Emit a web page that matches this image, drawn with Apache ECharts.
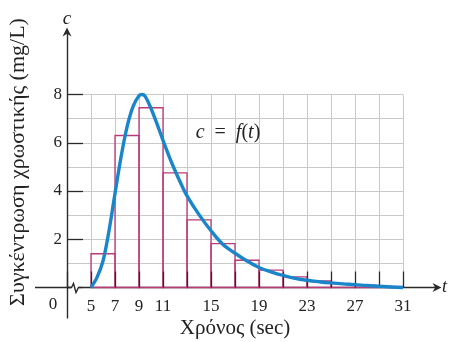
<!DOCTYPE html>
<html><head><meta charset="utf-8">
<script src="https://cdn.jsdelivr.net/npm/echarts@6/dist/echarts.min.js"></script>
<style>html,body{margin:0;padding:0;background:#fff}#c{width:450px;height:342px}</style>
</head><body><div id="c"></div>
<script>
// ---- data ----
const curveT = [5,5.5,6,6.5,7,7.5,8,8.5,9,9.25,9.5,10,10.5,11,11.5,12,12.5,13,14,15,16,17,18,19,20,21,22,23,24,25,26,27,28,29,30,31];
const curveC = [0,0.42,1.1,2.35,3.9,5.4,6.65,7.5,7.95,8.0,7.93,7.42,6.78,6.1,5.45,4.85,4.3,3.8,3.02,2.35,1.78,1.42,1.1,0.83,0.65,0.5,0.38,0.3,0.24,0.19,0.15,0.12,0.08,0.05,0.02,0];
const binStart  = [5,7,9,11,13,15,17,19,21,23,25,27,29];
const binEnd    = [7,9,11,13,15,17,19,21,23,25,27,29,31];
const binHeight = [1.4,6.3,7.45,4.75,2.8,1.82,1.13,0.72,0.44,0.27,0.16,0.09,0.04];
const xTickLabels = [5,7,9,11,15,19,23,27,31];
const yTickLabels = [2,4,6,8];
const yTitle = 'Συγκέντρωση χρωστικής (mg/L)';
const xTitle = 'Χρόνος (sec)';

const SERIF = "'Liberation Serif','DejaVu Serif',serif";
const INK = '#2a2a2a';
const chart = echarts.init(document.getElementById('c'), null, {renderer:'canvas'});

const curveData = curveT.map((t,i)=>[t, curveC[i]]);
const binData = binStart.map((s,i)=>[s, binEnd[i], binHeight[i]]);
const arrow = 'path://M5,0 L10,10 L5,7 L0,10 Z';

chart.setOption({
  backgroundColor:'#fff',
  animation:false,
  grid:[
    {left:67, right:13, top:32, bottom:24, containLabel:false, outerBoundsMode:'none'},
    {left:67, right:47, top:94.5, bottom:54.5, containLabel:false, outerBoundsMode:'none'}
  ],
  xAxis:[
    {gridIndex:0, type:'value', position:'bottom', min:3, max:33.83,
     axisLine:{show:true, onZero:true, symbol:['none',arrow], symbolSize:[9,11], lineStyle:{color:INK,width:1.4}},
     axisTick:{show:false}, axisLabel:{show:false}, splitLine:{show:false},
     name:'t', nameLocation:'end', nameGap:5,
     nameTextStyle:{fontFamily:SERIF, fontStyle:'italic', fontSize:18, color:'#222'}},
    {gridIndex:1, type:'value', position:'bottom', min:3, max:31, interval:2,
     axisLine:{show:false}, axisTick:{show:false}, axisLabel:{show:false},
     splitLine:{show:true, lineStyle:{color:'#c9c9c9', width:1}},
     name:xTitle, nameLocation:'middle', nameGap:30,
     nameTextStyle:{fontFamily:SERIF, fontSize:21, color:'#222'}},
    {gridIndex:1, type:'value', position:'bottom', min:3, max:31, interval:2, z:3,
     axisLine:{show:false},
     axisTick:{show:true, inside:true, length:16, lineStyle:{color:INK, width:1.3}},
     axisLabel:{show:true, margin:11, fontFamily:SERIF, fontSize:17, color:'#222',
       formatter:v=> xTickLabels.indexOf(v)>=0 ? String(v) : ''},
     splitLine:{show:false}}
  ],
  yAxis:[
    {gridIndex:0, type:'value', position:'left', min:-1.266, max:10.6,
     axisLine:{show:true, onZero:false, symbol:['none',arrow], symbolSize:[9,11], lineStyle:{color:INK,width:1.4}},
     axisTick:{show:false}, axisLabel:{show:false}, splitLine:{show:false},
     name:'c', nameLocation:'end', nameGap:4,
     nameTextStyle:{fontFamily:SERIF, fontStyle:'italic', fontSize:19, color:'#222'}},
    {gridIndex:1, type:'value', position:'left', min:0, max:8, interval:1,
     axisLine:{show:false}, axisTick:{show:false}, axisLabel:{show:false},
     splitLine:{show:true, lineStyle:{color:'#c9c9c9', width:1}}},
    {gridIndex:1, type:'value', position:'left', min:0, max:8, interval:2, z:3,
     axisLine:{show:false},
     axisTick:{show:true, inside:true, length:16, lineStyle:{color:INK, width:1.3}},
     axisLabel:{show:true, margin:5, fontFamily:SERIF, fontSize:17, color:'#222',
       formatter:v=> yTickLabels.indexOf(v)>=0 ? String(v) : ''},
     splitLine:{show:false}}
  ],
  series:[
    {type:'custom', xAxisIndex:1, yAxisIndex:1, z:1, data:binData,
     encode:{x:[0,1], y:2},
     renderItem:(params, api)=>{
       const p0 = api.coord([api.value(0), api.value(2)]);
       const p1 = api.coord([api.value(1), 0]);
       return {type:'rect', shape:{x:p0[0], y:p0[1], width:p1[0]-p0[0], height:p1[1]-p0[1]},
               style:{fill:'none', stroke:'#bc3a78', lineWidth:1.3}};
     }},
    {type:'line', xAxisIndex:1, yAxisIndex:1, z:4, data:curveData, smooth:0.35, clip:false,
     showSymbol:false, lineStyle:{color:'#1a86c9', width:3.4}}
  ],
  graphic:[
    {type:'rect', z:100, shape:{x:70.5, y:285, width:9, height:5}, style:{fill:'#fff'}},
    {type:'polyline', z:101, shape:{points:[[35,287.5],[71.5,287.5],[73.5,283.5],[76,292.5],[78.5,287.5],[80,287.5]]},
     style:{stroke:INK, lineWidth:1.4, fill:'none'}},
    {type:'text', z:101, x:53, y:305, style:{text:'0', font:"17px "+SERIF, fill:'#222', textAlign:'center', textVerticalAlign:'middle'}},
    {type:'text', z:101, x:18, y:162, rotation:Math.PI/2,
     style:{text:yTitle, font:"22px "+SERIF, fill:'#222', textAlign:'center', textVerticalAlign:'middle'}},
    {type:'text', z:101, x:228, y:133,
     style:{text:'{i|c}  =  {i|f}({i|t})', font:"20px "+SERIF, fill:'#222', textAlign:'center', textVerticalAlign:'middle',
       rich:{i:{fontFamily:SERIF, fontStyle:'italic', fontSize:20, fill:'#222'}}}}
  ]
});
</script></body></html>
